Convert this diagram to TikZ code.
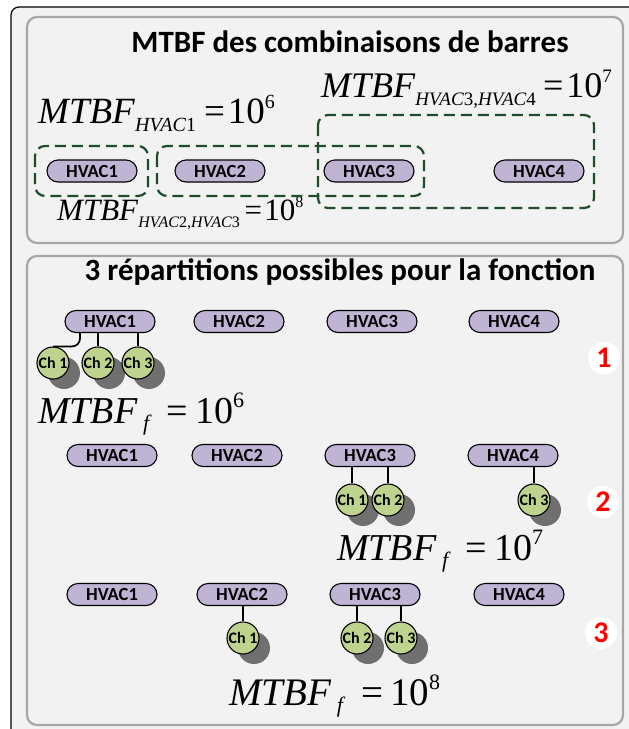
\documentclass[tikz,border=0pt]{standalone}
\usepackage{fontspec}
\setmainfont{Carlito}
\newfontfamily\tms{Liberation Serif}
\usetikzlibrary{shadows}

\definecolor{bgg}{RGB}{242,242,242}
\definecolor{pnl}{RGB}{166,166,166}
\definecolor{pillc}{RGB}{192,180,213}
\definecolor{chg}{RGB}{190,211,142}
\definecolor{dgreen}{RGB}{32,76,44}
\definecolor{shd}{RGB}{112,112,112}

% MTBF_{sub} = 10^{exp}
\newcommand\mtbfsub[5]{{\tms\fontsize{#1}{#1}\selectfont\textit{MTBF}\raisebox{-0.24em}{\fontsize{#2}{#2}\selectfont #3}\hspace{#5}=\kern0.08em10\raisebox{0.40em}{\fontsize{#2}{#2}\selectfont #4}}}
% MTBF_f = 10^{exp}
\newcommand\mtbff[3]{{\tms\fontsize{#1}{#1}\selectfont\textit{MTBF}\kern0.14em\raisebox{-0.2em}{\fontsize{#2}{#2}\selectfont\textit{f}}\kern0.40em=\kern0.18em10\raisebox{0.40em}{\fontsize{#2}{#2}\selectfont #3}}}

\tikzset{
  panelbox/.style={draw=pnl, line width=2.2pt, rounded corners=10pt, fill=bgg},
  grpbox/.style={draw=dgreen, line width=2.2pt, dash pattern=on 11pt off 6pt, rounded corners=10pt},
  pillbox/.style={draw=black, line width=1.1pt, fill=pillc, rounded corners=11pt,
    minimum width=90pt, minimum height=22pt, inner sep=0pt,
    font=\fontsize{18.5}{18.5}\selectfont\bfseries},
  chnode/.style={circle, draw=black, line width=1.1pt, fill=chg, minimum size=32pt, inner sep=0pt,
    font=\fontsize{16}{16}\selectfont\bfseries,
    drop shadow={shadow xshift=11pt, shadow yshift=-10pt, fill=shd, opacity=1}},
  link/.style={draw=black, line width=1.7pt},
  badge/.style={circle, fill=white, minimum size=32pt, inner sep=0pt, text=red,
    font=\fontsize{30}{30}\selectfont\bfseries},
  titletext/.style={font=\fontsize{31}{31}\selectfont\bfseries},
  eqn/.style={anchor=base west, inner sep=0pt}
}

\begin{document}
\begin{tikzpicture}[x=1pt, y=-1pt]
\useasboundingbox (0,0) rectangle (629,729);
\clip (0,0) rectangle (629,729);
\fill[white] (0,0) rectangle (629,729);
\draw[black, line width=1.2pt, fill=bgg, rounded corners=8pt] (11,7) rectangle (680,780);

% ---------- panel 1 ----------
\draw[panelbox] (27,17) rectangle (623,243);
\node[titletext] (t1) at (350,42) {MTBF des combinaisons de barres};

\node[eqn] (e1) at (38,123) {\mtbfsub{37}{20}{\textit{HVAC}1}{6}{0.22em}};
\node[eqn] (e2) at (321,97) {\mtbfsub{36}{19}{\textit{HVAC}3,\textit{HVAC}4}{7}{0.2em}};
\node[eqn] (e3) at (57,220) {\mtbfsub{31}{16}{\textit{HVAC}2,\textit{HVAC}3}{8}{0.15em}};

\node[pillbox] (a1) at (92,171) {HVAC1};
\node[pillbox] (a2) at (220,171) {HVAC2};
\node[pillbox] (a3) at (369,171) {HVAC3};
\node[pillbox] (a4) at (539,171) {HVAC4};

\draw[grpbox] (35,146) rectangle (148,196);
\draw[grpbox] (157,146) rectangle (424,196);
\draw[grpbox] (318,115) rectangle (594,208);

% ---------- panel 2 ----------
\draw[panelbox] (27,256) rectangle (623,725);
\node[titletext] (t2) at (340,272) {3 répartitions possibles pour la fonction};

% option 1
\node[pillbox] (p11) at (110,321.5) {HVAC1};
\node[pillbox] (p12) at (239,321.5) {HVAC2};
\node[pillbox] (p13) at (372,321.5) {HVAC3};
\node[pillbox] (p14) at (514,321.5) {HVAC4};
\node[chnode] (c11) at (53,363) {Ch 1};
\node[chnode] (c12) at (98,363) {Ch 2};
\node[chnode] (c13) at (138,363) {Ch 3};
\draw[link, rounded corners=8pt] ([xshift=-30pt]p11.south) |- (c11.north);
\draw[link] (c12.north) -- (c12.north |- p11.south);
\draw[link] (c13.north) -- (c13.north |- p11.south);
\node[badge] (n1) at (604,358) {1};
\node[eqn] (f1) at (38,423) {\mtbff{38}{22}{6}};

% option 2
\node[pillbox] (p21) at (112,455.5) {HVAC1};
\node[pillbox] (p22) at (237,455.5) {HVAC2};
\node[pillbox] (p23) at (370,455.5) {HVAC3};
\node[pillbox] (p24) at (513,455.5) {HVAC4};
\node[chnode] (c21) at (352,500) {Ch 1};
\node[chnode] (c22) at (388,500) {Ch 2};
\node[chnode] (c23) at (534,500) {Ch 3};
\draw[link] (c21.north) -- (c21.north |- p23.south);
\draw[link] (c22.north) -- (c22.north |- p23.south);
\draw[link] (c23.north) -- (c23.north |- p24.south);
\node[badge] (n2) at (603,502) {2};
\node[eqn] (f2) at (337,560) {\mtbff{38}{22}{7}};

% option 3
\node[pillbox] (p31) at (112,594.5) {HVAC1};
\node[pillbox] (p32) at (242,594.5) {HVAC2};
\node[pillbox] (p33) at (375,594.5) {HVAC3};
\node[pillbox] (p34) at (519,594.5) {HVAC4};
\node[chnode] (c31) at (243,638) {Ch 1};
\node[chnode] (c32) at (357,638) {Ch 2};
\node[chnode] (c33) at (401,638) {Ch 3};
\draw[link] (c31.north) -- (c31.north |- p32.south);
\draw[link] (c32.north) -- (c32.north |- p33.south);
\draw[link] (c33.north) -- (c33.north |- p33.south);
\node[badge] (n3) at (601,633) {3};
\node[eqn] (f3) at (229,705) {\mtbff{39}{22}{8}};
\end{tikzpicture}
\end{document}
